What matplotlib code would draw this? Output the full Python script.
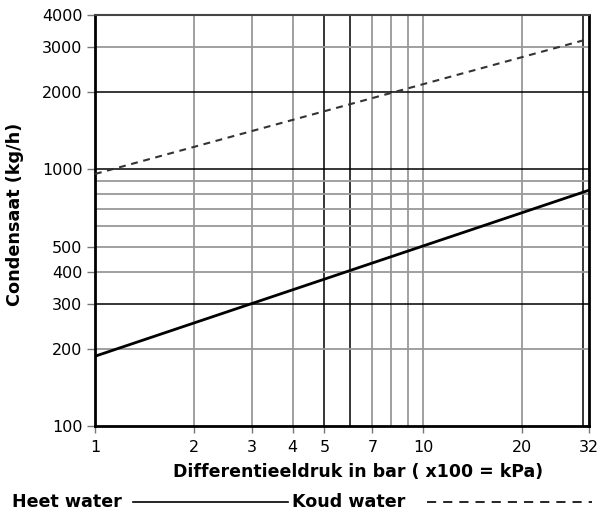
import matplotlib.pyplot as plt
from matplotlib.lines import Line2D

plt.rcParams['font.family'] = ['DejaVu Sans']

# endpoints of the two straight (log-log) curves
druk = [1, 32]
heet_water = [187, 830]
koud_water = [960, 3230]

x_ticks = [1, 2, 3, 4, 5, 7, 10, 20, 32]
y_ticks = [100, 200, 300, 400, 500, 1000, 2000, 3000, 4000]

x_grid_dark = [5, 6, 30.6]
x_grid_light = [2, 3, 4, 7, 8, 9, 10, 20]
y_grid_dark = [300, 1000, 2000]
y_grid_light = [200, 400, 500, 600, 700, 800, 900, 3000]

fig = plt.figure(figsize=(6.03, 5.13), dpi=100)
ax = fig.add_axes([0.1575, 0.1696, 0.8193, 0.8012])
ax.set_xscale('log')
ax.set_yscale('log')
ax.set_xlim(1, 32)
ax.set_ylim(100, 4000)

for v in x_grid_light:
    ax.axvline(v, color='#999999', lw=1.3, zorder=1)
for v in x_grid_dark:
    ax.axvline(v, color='black', lw=1.1, zorder=1)
for v in y_grid_light:
    ax.axhline(v, color='#999999', lw=1.3, zorder=1)
for v in y_grid_dark:
    ax.axhline(v, color='black', lw=1.1, zorder=1)

ax.plot(druk, heet_water, color='black', lw=2.0, zorder=3)
ax.plot(druk, koud_water, color='#333333', lw=1.5, dashes=(3.3, 2.7), zorder=3)

ax.xaxis.set_minor_locator(plt.NullLocator())
ax.yaxis.set_minor_locator(plt.NullLocator())
ax.set_xticks(x_ticks)
ax.set_xticklabels([str(t) for t in x_ticks])
ax.set_yticks(y_ticks)
ax.set_yticklabels([str(t) for t in y_ticks])
ax.tick_params(axis='both', labelsize=11.5, width=1, color='#777777')
ax.tick_params(axis='y', length=6, pad=3)
ax.tick_params(axis='x', length=5, pad=5)

for side in ['left', 'bottom', 'right']:
    ax.spines[side].set_linewidth(2)
    ax.spines[side].set_color('black')
ax.spines['top'].set_linewidth(1.5)
ax.spines['top'].set_color('#444444')

ax.set_ylabel('Condensaat (kg/h)', fontsize=12.7, fontweight='bold')
ax.yaxis.set_label_coords(-0.144, 0.515)
ax.set_xlabel('Differentieeldruk in bar ( x100 = kPa)', fontsize=12.5, fontweight='bold')
ax.xaxis.set_label_coords(0.533, -0.09)

# legend below the chart
ly = 1 - 502 / 513
fig.text(12 / 603, ly, 'Heet water', fontsize=12.6, fontweight='bold', va='center', ha='left')
fig.add_artist(Line2D([133 / 603, 288 / 603], [ly, ly], color='black', lw=1.2))
fig.text(292 / 603, ly, 'Koud water', fontsize=12.6, fontweight='bold', va='center', ha='left')
fig.add_artist(Line2D([427 / 603, 592 / 603], [ly, ly], color='black', lw=1.2, dashes=(5.5, 4.2)))

fig.savefig('out.png', dpi=100)
